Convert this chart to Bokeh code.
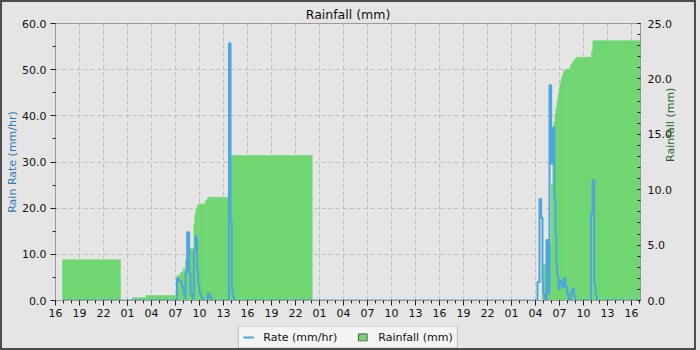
import math
from datetime import datetime, timedelta
from bokeh.plotting import figure
from bokeh.layouts import column
from bokeh.models import (Range1d, LinearAxis, SingleIntervalTicker, FixedTicker,
                          DatetimeTickFormatter, PrintfTickFormatter, Legend, LegendItem,
                          ColumnDataSource)
from bokeh.embed import file_html
from bokeh.resources import INLINE

# ---------------- data (hours counted from the chart start) ----------------
chart_start = datetime(2024, 5, 17, 16, 0)
span_hours = 73.125

# cumulative rainfall bars (mm)
rain_start = [0.875, 9.59, 11.34, 15.21, 15.625, 15.96, 16.25, 16.66, 17.29, 17.41, 17.56,
              17.71, 17.91, 18.75, 18.96, 19.09, 21.81,
              60.84, 61.46, 61.96, 62.16, 62.31, 62.44, 62.56, 62.69, 62.81, 62.94, 63.06,
              63.19, 63.31, 63.44, 63.56, 63.875, 64.375, 64.625, 64.875, 65.125, 67.0, 67.16]
rain_end = [8.125, 11.34, 15.21, 15.625, 15.96, 16.25, 16.66, 17.29, 17.41, 17.56, 17.71,
            17.91, 18.75, 18.96, 19.09, 21.75, 32.09,
            61.46, 61.96, 62.16, 62.31, 62.44, 62.56, 62.69, 62.81, 62.94, 63.06, 63.19,
            63.31, 63.44, 63.56, 63.875, 64.375, 64.625, 64.875, 65.125, 67.0, 67.16, 73.125]
rain_total = [3.67, 0.24, 0.45, 2.26, 2.55, 2.86, 3.7, 4.7, 6.9, 7.8, 8.3,
              8.57, 8.72, 9.02, 9.18, 9.32, 13.09,
              3.22, 4.96, 10.5, 13.5, 16.1, 16.8, 17.4, 18.0, 18.6, 19.1, 19.6,
              20.0, 20.3, 20.5, 20.8, 20.9, 21.3, 21.6, 21.8, 21.95, 22.5, 23.45]

# rain rate (mm/hr)
rate_time = [0.875, 15.19, 15.44, 15.81, 16.0, 16.125, 16.25, 16.46, 16.71, 16.875, 17.09,
             17.19, 17.29, 17.5, 17.71, 17.83, 18.0, 18.19, 18.375, 19.04, 19.31, 19.5,
             21.69, 21.875, 22.04, 22.16, 22.31,
             60.25, 60.5, 60.71, 60.875, 60.96, 61.125, 61.25, 61.375, 61.625, 61.75, 61.96,
             62.16, 62.375, 62.5, 62.625, 62.71, 62.875, 63.04, 63.21, 63.375, 63.54, 63.75,
             63.96, 64.16, 64.375, 64.46, 64.625, 64.79, 64.96,
             66.94, 67.125, 67.34, 67.5, 67.66, 73.125]
rate_value = [0, 4.8, 4.1, 2.9, 1.5, 0.5, 6.1, 14.8, 6.0, 1.5, 0.7,
              0.3, 10.8, 13.9, 6.5, 3.7, 1.5, 0.7, 0, 1.5, 0.7, 0,
              55.7, 17.3, 2.2, 0.7, 0,
              4.0, 22.0, 17.9, 4.0, 1.5, 0.3, 0, 13.1, 1.5, 46.6, 29.6,
              37.5, 22.0, 14.4, 7.5, 5.4, 2.5, 4.3, 4.0, 2.9, 4.8, 3.0,
              1.3, 0.4, 0, 2.0, 2.6, 1.0, 0,
              18.8, 26.1, 3.6, 1.1, 0, 0]

major_tick_hours = list(range(0, 73, 3))
minor_tick_hours = list(range(0, 74, 1))

# ---------------- styling ----------------
BG = "#e5e5e5"
GREEN = "#70d672"
BLUE = "#4ea6dc"
FONT = "DejaVu Sans"

EPOCH = datetime(1970, 1, 1)


def to_dt(h):
    return chart_start + timedelta(hours=h)


def to_ms(h):
    return (to_dt(h) - EPOCH).total_seconds() * 1000.0


p = figure(width=696, height=324, output_backend="svg", toolbar_location=None,
           x_axis_type="datetime",
           x_range=Range1d(to_ms(0), to_ms(span_hours)), y_range=Range1d(0, 60),
           title="Rainfall (mm)",
           min_border_left=53, min_border_right=58, min_border_top=21, min_border_bottom=26)
p.extra_y_ranges = {"rain": Range1d(0, 25)}

p.background_fill_color = BG
p.border_fill_color = BG
p.outline_line_color = "#999999"

p.title.align = "center"
p.title.text_font = FONT
p.title.text_font_size = "12.5px"
p.title.text_font_style = "normal"
p.title.text_color = "#111111"
p.title.standoff = 3

# rainfall bars
rain_src = ColumnDataSource(dict(left=[to_dt(h) for h in rain_start],
                                 right=[to_dt(h) for h in rain_end],
                                 top=rain_total))
p.quad(left="left", right="right", bottom=0, top="top", source=rain_src,
       y_range_name="rain", fill_color=GREEN, line_color=GREEN, line_width=0.6)

# rate line
rate_src = ColumnDataSource(dict(x=[to_dt(h) for h in rate_time], y=rate_value))
p.step(x="x", y="y", source=rate_src, mode="after", line_color=BLUE, line_width=2)

# x axis
xa = p.xaxis[0]
xa.ticker = FixedTicker(ticks=[to_ms(h) for h in major_tick_hours],
                        minor_ticks=[to_ms(h) for h in minor_tick_hours])
xa.formatter = DatetimeTickFormatter(hours="%H", hourmin="%H", days="%H", minutes="%H")
xa.axis_line_color = "#999999"
xa.major_tick_line_color = "#222222"
xa.minor_tick_line_color = "#222222"
xa.major_tick_out = 5
xa.major_tick_in = 0
xa.minor_tick_out = 3
xa.minor_tick_in = 0
xa.major_label_text_font = FONT
xa.major_label_text_font_size = "11px"
xa.major_label_text_color = "#111111"
xa.major_label_standoff = 3

# left y axis
ya = p.yaxis[0]
ya.ticker = SingleIntervalTicker(interval=10, num_minor_ticks=2)
ya.formatter = PrintfTickFormatter(format="%.1f")
ya.axis_label = "Rain Rate (mm/hr)"
ya.axis_label_text_font = FONT
ya.axis_label_text_font_size = "11px"
ya.axis_label_text_font_style = "normal"
ya.axis_label_text_color = "#2a7bb8"
ya.axis_label_standoff = 0
ya.axis_line_color = "#999999"
ya.major_tick_line_color = "#222222"
ya.minor_tick_line_color = "#222222"
ya.major_tick_out = 5
ya.major_tick_in = 0
ya.minor_tick_out = 3
ya.minor_tick_in = 0
ya.major_label_text_font = FONT
ya.major_label_text_font_size = "11px"
ya.major_label_text_color = "#111111"
ya.major_label_standoff = 4

# right y axis
ra = LinearAxis(y_range_name="rain",
                ticker=SingleIntervalTicker(interval=5, num_minor_ticks=5),
                formatter=PrintfTickFormatter(format="%.1f"))
ra.axis_label = "Rainfall (mm)"
ra.axis_label_orientation = math.pi / 2
ra.axis_label_text_align = "center"
ra.axis_label_text_font = FONT
ra.axis_label_text_font_size = "11px"
ra.axis_label_text_font_style = "normal"
ra.axis_label_text_color = "#1f6b1f"
ra.axis_label_standoff = -4
ra.axis_line_color = "#999999"
ra.major_tick_line_color = "#222222"
ra.minor_tick_line_color = "#222222"
ra.major_tick_out = 0
ra.major_tick_in = 3
ra.minor_tick_out = 0
ra.minor_tick_in = 3
ra.major_label_text_font = FONT
ra.major_label_text_font_size = "11px"
ra.major_label_text_color = "#111111"
ra.major_label_standoff = 7
p.add_layout(ra, "right")

# grids
for g in (p.xgrid[0], p.ygrid[0]):
    g.grid_line_color = "#bdbdbd"
    g.grid_line_dash = "4 3"
    g.grid_line_width = 1
p.xgrid[0].ticker = xa.ticker

# ---------------- legend strip below the chart ----------------
lf = figure(width=696, height=22, output_backend="svg", toolbar_location=None,
            x_axis_location=None, y_axis_location=None,
            x_range=Range1d(0, 1), y_range=Range1d(0, 1),
            min_border=0)
lf.background_fill_color = BG
lf.border_fill_color = BG
lf.outline_line_color = None
lf.grid.visible = False
leg_rate = lf.step(x="x", y="y", source=rate_src, mode="after", line_color=BLUE, line_width=2)
leg_rain = lf.quad(left="left", right="right", bottom=0, top="top", source=rain_src,
                   fill_color=GREEN, line_color="#555555", line_width=1)
leg_rate.visible = False
leg_rain.visible = False

legend = Legend(items=[LegendItem(label="Rate (mm/hr)", renderers=[leg_rate]),
                       LegendItem(label="Rainfall (mm)", renderers=[leg_rain])],
                orientation="horizontal", location="center",
                background_fill_color="#f4f4f4", background_fill_alpha=1.0,
                border_line_color="#8a8a8a",
                label_text_font=FONT, label_text_font_size="11px",
                label_text_color="#111111",
                glyph_width=11, glyph_height=9, label_standoff=10, spacing=20,
                padding=4, margin=0)
lf.add_layout(legend, "center")

layout = column(p, lf, spacing=0)

page = file_html(layout, INLINE)
page = page.replace("<head>", "<head><style>html, body { margin: 0; padding: 0; } "
                    "body { border: 2px solid #4d4d4d; width: 696px; height: 346px; "
                    "background: #e5e5e5; }</style>", 1)
open("out.html", "w").write(page)
